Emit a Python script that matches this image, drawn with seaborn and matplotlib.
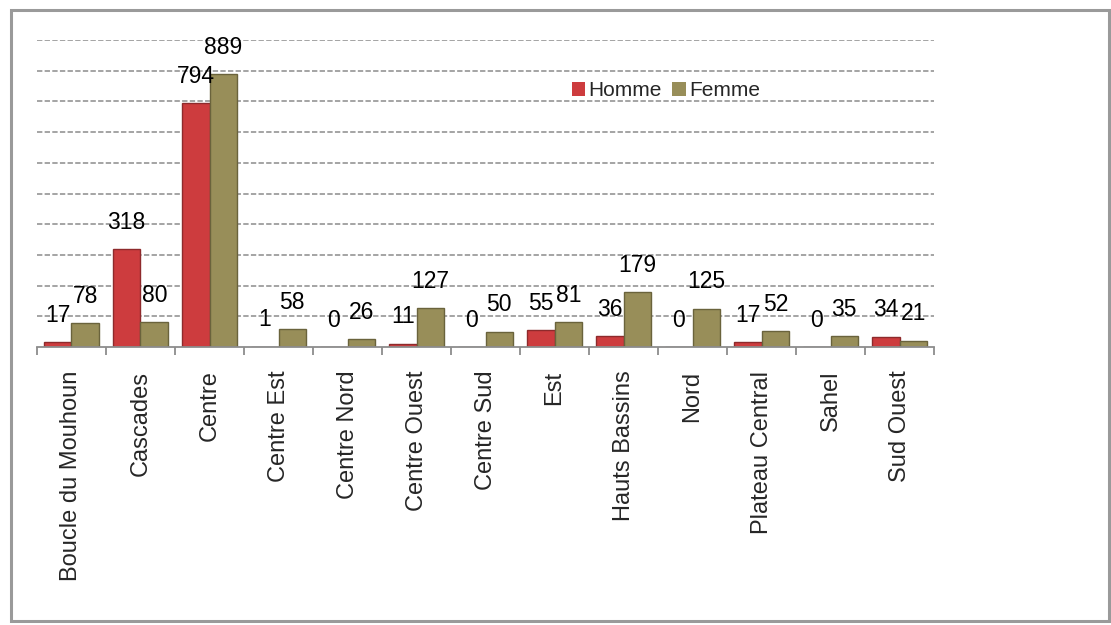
import matplotlib.pyplot as plt
import pandas as pd
import seaborn as sns
from matplotlib.patches import Rectangle

# Data
regions = ['Boucle du Mouhoun', 'Cascades', 'Centre', 'Centre Est', 'Centre Nord',
           'Centre Ouest', 'Centre Sud', 'Est', 'Hauts Bassins', 'Nord',
           'Plateau Central', 'Sahel', 'Sud Ouest']
homme = [17, 318, 794, 1, 0, 11, 0, 55, 36, 0, 17, 0, 34]
femme = [78, 80, 889, 58, 26, 127, 50, 81, 179, 125, 52, 35, 21]
series = ['Homme', 'Femme']
y_max = 1000
y_step = 100

red = '#CD3C3E'
olive = '#988E59'

df = pd.DataFrame({
    'Region': regions * 2,
    'Sexe': ['Homme'] * len(regions) + ['Femme'] * len(regions),
    'Nombre': homme + femme,
})

sns.set_theme(style='white')
plt.rcParams['font.family'] = ['Liberation Sans', 'DejaVu Sans']

fig = plt.figure(figsize=(11.11, 6.25), dpi=100)
ax = fig.add_axes([0.0333, 0.4448, 0.8074, 0.4912])

sns.barplot(data=df, x='Region', y='Nombre', hue='Sexe', hue_order=series,
            palette=[red, olive], saturation=1, width=0.8, gap=0, ax=ax,
            legend=True, edgecolor='none', linewidth=0)

# darker outline on the bars, labels on top
for cont, ec in zip(ax.containers, ['#8E2A2C', '#6A633C']):
    for bar in cont:
        bar.set_edgecolor(ec)
        bar.set_linewidth(1.0)
    ax.bar_label(cont, padding=11, fontsize=16.5, color='black')

ax.set_ylim(0, y_max)
ax.set_xlim(-0.5, len(regions) - 0.5)
ax.set_yticks(range(y_step, y_max + 1, y_step))
ax.set_yticklabels([])
ax.tick_params(axis='y', length=0)
ax.grid(axis='y', linestyle=(0, (3.5, 1.5)), color='#8C8C8C', linewidth=1.1)
ax.set_axisbelow(True)

for s in ['top', 'right', 'left']:
    ax.spines[s].set_visible(False)
ax.spines['bottom'].set_color('#8C8C8C')
ax.spines['bottom'].set_linewidth(1.3)

ax.set_xticks(range(len(regions)))
ax.set_xticklabels(regions, rotation=90, fontsize=17)
ax.set_xticks([i - 0.5 for i in range(len(regions) + 1)], minor=True)
ax.tick_params(axis='x', which='major', length=0, pad=17)
ax.tick_params(axis='x', which='minor', length=6, width=1.3, color='#8C8C8C',
               direction='out', bottom=True)
ax.set_xlabel('')
ax.set_ylabel('')

ax.legend(loc='center left', bbox_to_anchor=(0.587, 0.834), ncol=2,
          frameon=False, fontsize=15, handlelength=0.65, handleheight=0.65,
          handletextpad=0.15, columnspacing=0.5, borderaxespad=0)

# outer frame of the chart area
fig.patches.append(Rectangle((0.0095, 0.006), 0.989, 0.978, transform=fig.transFigure,
                             fill=False, edgecolor='#9A9A9A', linewidth=2.2))

fig.savefig('out.png', dpi=100)
